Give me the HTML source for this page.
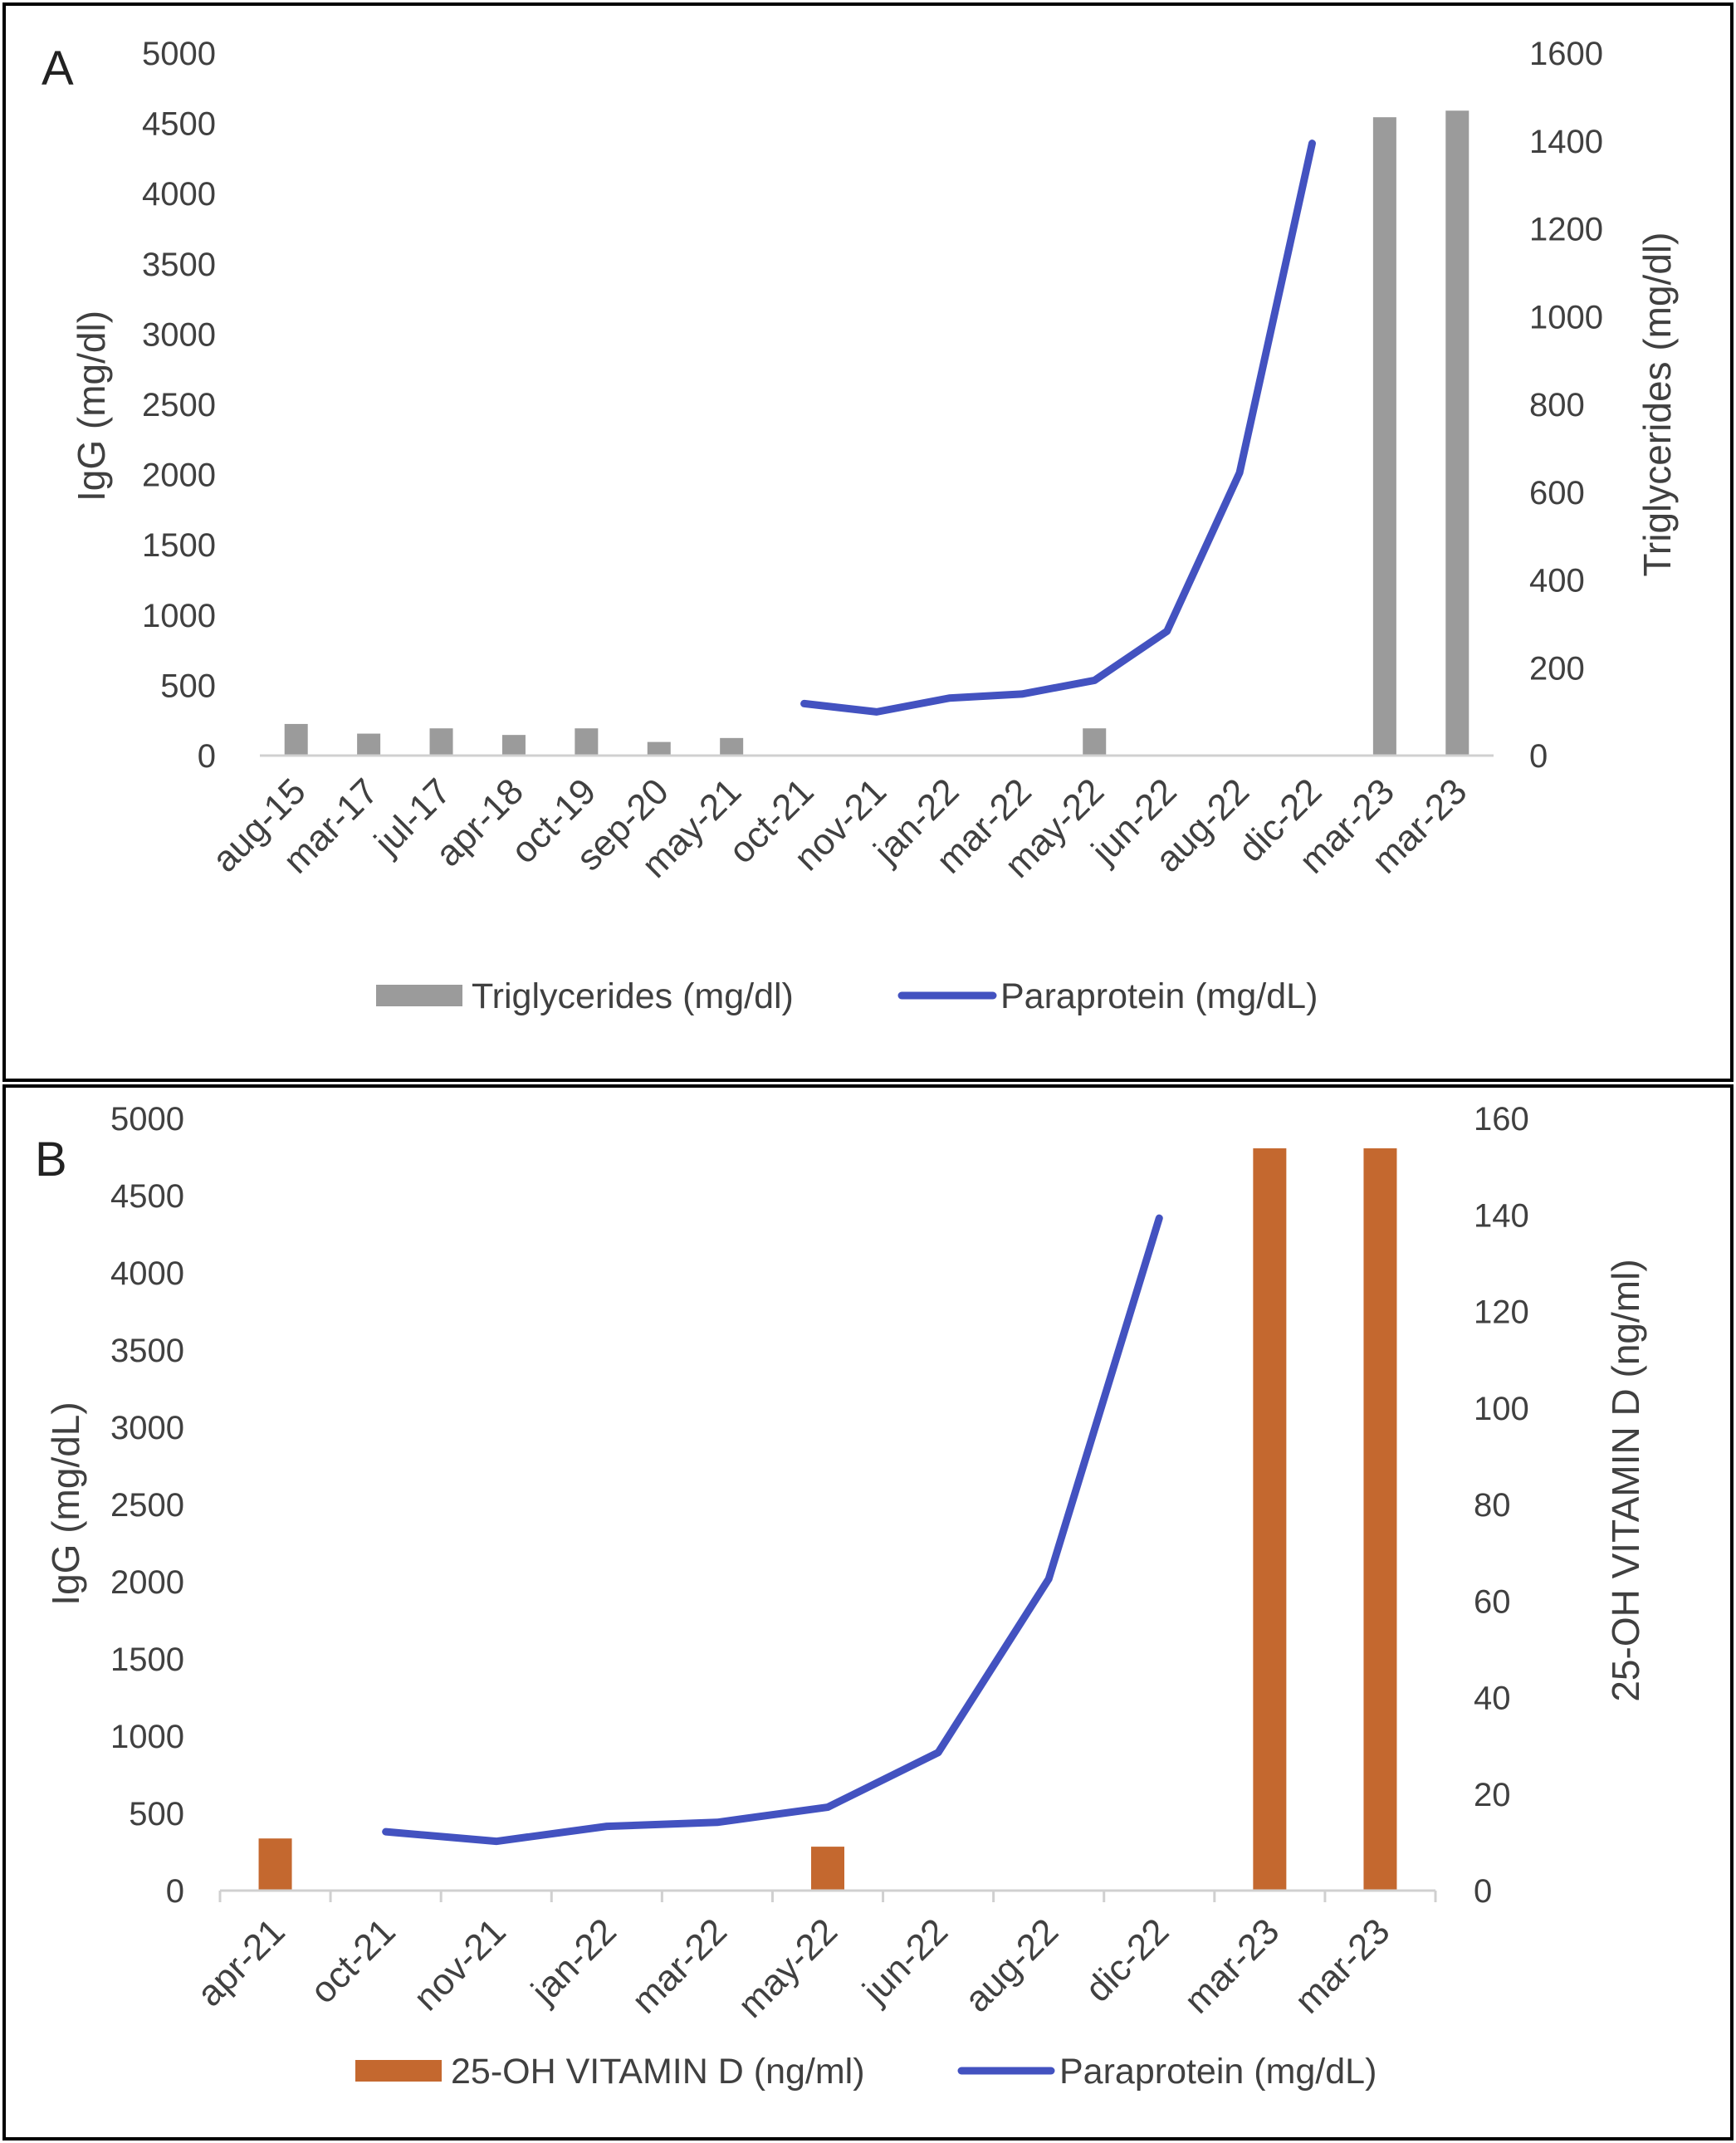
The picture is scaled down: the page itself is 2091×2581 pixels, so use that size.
<!DOCTYPE html>
<html><head><meta charset="utf-8"><style>
html,body{margin:0;padding:0;background:#fff}
svg{display:block;font-family:"Liberation Sans",sans-serif}
</style></head><body>
<svg id="chart" width="2091" height="2581" viewBox="0 0 2091 2581" xmlns="http://www.w3.org/2000/svg">
<rect x="5" y="5" width="2081" height="1296" fill="none" stroke="#000" stroke-width="4"/>
<rect x="5" y="1308" width="2081" height="1268" fill="none" stroke="#000" stroke-width="4"/>
<text x="50" y="102" font-size="58" fill="#222">A</text>
<text x="42" y="1416" font-size="58" fill="#222">B</text>
<g id="gA"></g>
<g id="gB"></g>
</svg>
<script>
const catsA = ["aug-15","mar-17","jul-17","apr-18","oct-19","sep-20","may-21","oct-21","nov-21","jan-22","mar-22","may-22","jun-22","aug-22","dic-22","mar-23","mar-23"];
const trigA = [72,50,62,47,62,31,40,null,null,null,null,62,null,null,null,1454,1469];
const paraA = [null,null,null,null,null,null,null,370,311,409,438,535,885,2013,4358,null,null];
const leftTicksA = [0,500,1000,1500,2000,2500,3000,3500,4000,4500,5000];
const rightTicksA = [0,200,400,600,800,1000,1200,1400,1600];

const catsB = ["apr-21","oct-21","nov-21","jan-22","mar-22","may-22","jun-22","aug-22","dic-22","mar-23","mar-23"];
const vitB = [10.8,null,null,null,null,9.1,null,null,null,153.8,153.8];
const paraB = [null,381,319,416,442,540,894,2018,4354,null,null];
const leftTicksB = [0,500,1000,1500,2000,2500,3000,3500,4000,4500,5000];
const rightTicksB = [0,20,40,60,80,100,120,140,160];

const NS="http://www.w3.org/2000/svg";
function mk(parent,tag,attrs,text){const e=document.createElementNS(NS,tag);for(const k in attrs)e.setAttribute(k,attrs[k]);if(text!==undefined)e.textContent=text;parent.appendChild(e);return e;}

function drawPanel(g,cfg){
  const {x0,x1,y0,y1,cats,bars,line,lt,rt,lmax,rmax,barColor,barW,tickMarks}=cfg;
  const bw=(x1-x0)/cats.length;
  const xc=i=>x0+(i+0.5)*bw;
  const yl=v=>y0-(v/lmax)*(y0-y1);
  const yr=v=>y0-(v/rmax)*(y0-y1);
  lt.forEach(v=>{const t=mk(g,'text',{x:cfg.lx,y:yl(v)+14,'text-anchor':'end','font-size':40,fill:'#404040'},v);
    
    });
  rt.forEach(v=>{const t=mk(g,'text',{x:cfg.rx,y:yr(v)+14,'font-size':40,fill:'#404040'},v);
    
    });
  bars.forEach((v,i)=>{if(v==null)return;const r=mk(g,'rect',{x:xc(i)-barW/2,y:yr(v),width:barW,height:y0-yr(v),fill:barColor});
    
    });
  const ax=mk(g,'line',{x1:x0,x2:x1,y1:y0,y2:y0,stroke:'#d0d0d0','stroke-width':3});
  
  
  if(tickMarks){for(let i=0;i<=cats.length;i++){const tm=mk(g,'line',{x1:x0+i*bw,x2:x0+i*bw,y1:y0,y2:y0+14,stroke:'#d0d0d0','stroke-width':3});
    
    }}
  let d='';line.forEach((v,i)=>{if(v==null)return;d+=(d?'L':'M')+xc(i)+' '+yl(v);});
  const p=mk(g,'path',{d:d,fill:'none',stroke:'#4352c0','stroke-width':9,'stroke-linejoin':'round','stroke-linecap':'round'});
  
  
  cats.forEach((c,i)=>{const x=xc(i)+14,y=y0+cfg.labOff;const t=mk(g,'text',{x:x,y:y,'text-anchor':'end','font-size':44,fill:'#404040',transform:`rotate(-45 ${x} ${y})`},c);
    
    });
  const t1=mk(g,'text',{x:cfg.ltx,y:cfg.lty,'text-anchor':'middle','font-size':46,fill:'#404040',transform:`rotate(-90 ${cfg.ltx} ${cfg.lty})`},cfg.ltitle);
  
  
  const t2=mk(g,'text',{x:cfg.rtx,y:cfg.rty,'text-anchor':'middle','font-size':46,fill:'#404040',transform:`rotate(-90 ${cfg.rtx} ${cfg.rty})`},cfg.rtitle);
  
  
  const L=cfg.leg;
  const s1=mk(g,'rect',{x:L.s1x,y:L.y-13,width:L.s1w,height:26,fill:barColor});
  
  
  const l1=mk(g,'text',{x:L.t1x,y:L.y+15,'font-size':43,fill:'#404040'},L.t1);
  
  
  const s2=mk(g,'line',{x1:L.s2x,x2:L.s2x+L.s2w,y1:L.y,y2:L.y,stroke:'#4352c0','stroke-width':9,'stroke-linecap':'round'});
  
  
  const l2=mk(g,'text',{x:L.t2x,y:L.y+15,'font-size':43,fill:'#404040'},'Paraprotein (mg/dL)');
  
  
}

drawPanel(document.getElementById('gA'),{x0:313,x1:1799,y0:910,y1:64,cats:catsA,bars:trigA,line:paraA,lt:leftTicksA,rt:rightTicksA,lmax:5000,rmax:1600,barColor:'#9b9b9b',barW:28,tickMarks:false,lx:260,rx:1842,labOff:46,
  ltx:126,lty:489,ltitle:'IgG (mg/dl)',rtx:2012,rty:487,rtitle:'Triglycerides (mg/dl)',
  leg:{y:1199,s1x:453,s1w:104,t1x:568,t1:'Triglycerides (mg/dl)',s2x:1086,s2w:110,t2x:1205}});
drawPanel(document.getElementById('gB'),{x0:265,x1:1729,y0:2277,y1:1347,cats:catsB,bars:vitB,line:paraB,lt:leftTicksB,rt:rightTicksB,lmax:5000,rmax:160,barColor:'#c4682f',barW:40,tickMarks:true,lx:222,rx:1775,labOff:52,
  ltx:95,lty:1811,ltitle:'IgG (mg/dL)',rtx:1974,rty:1783,rtitle:'25-OH VITAMIN D (ng/ml)',
  leg:{y:2494,s1x:428,s1w:104,t1x:543,t1:'25-OH VITAMIN D (ng/ml)',s2x:1158,s2w:108,t2x:1276}});
</script>
</body></html>
